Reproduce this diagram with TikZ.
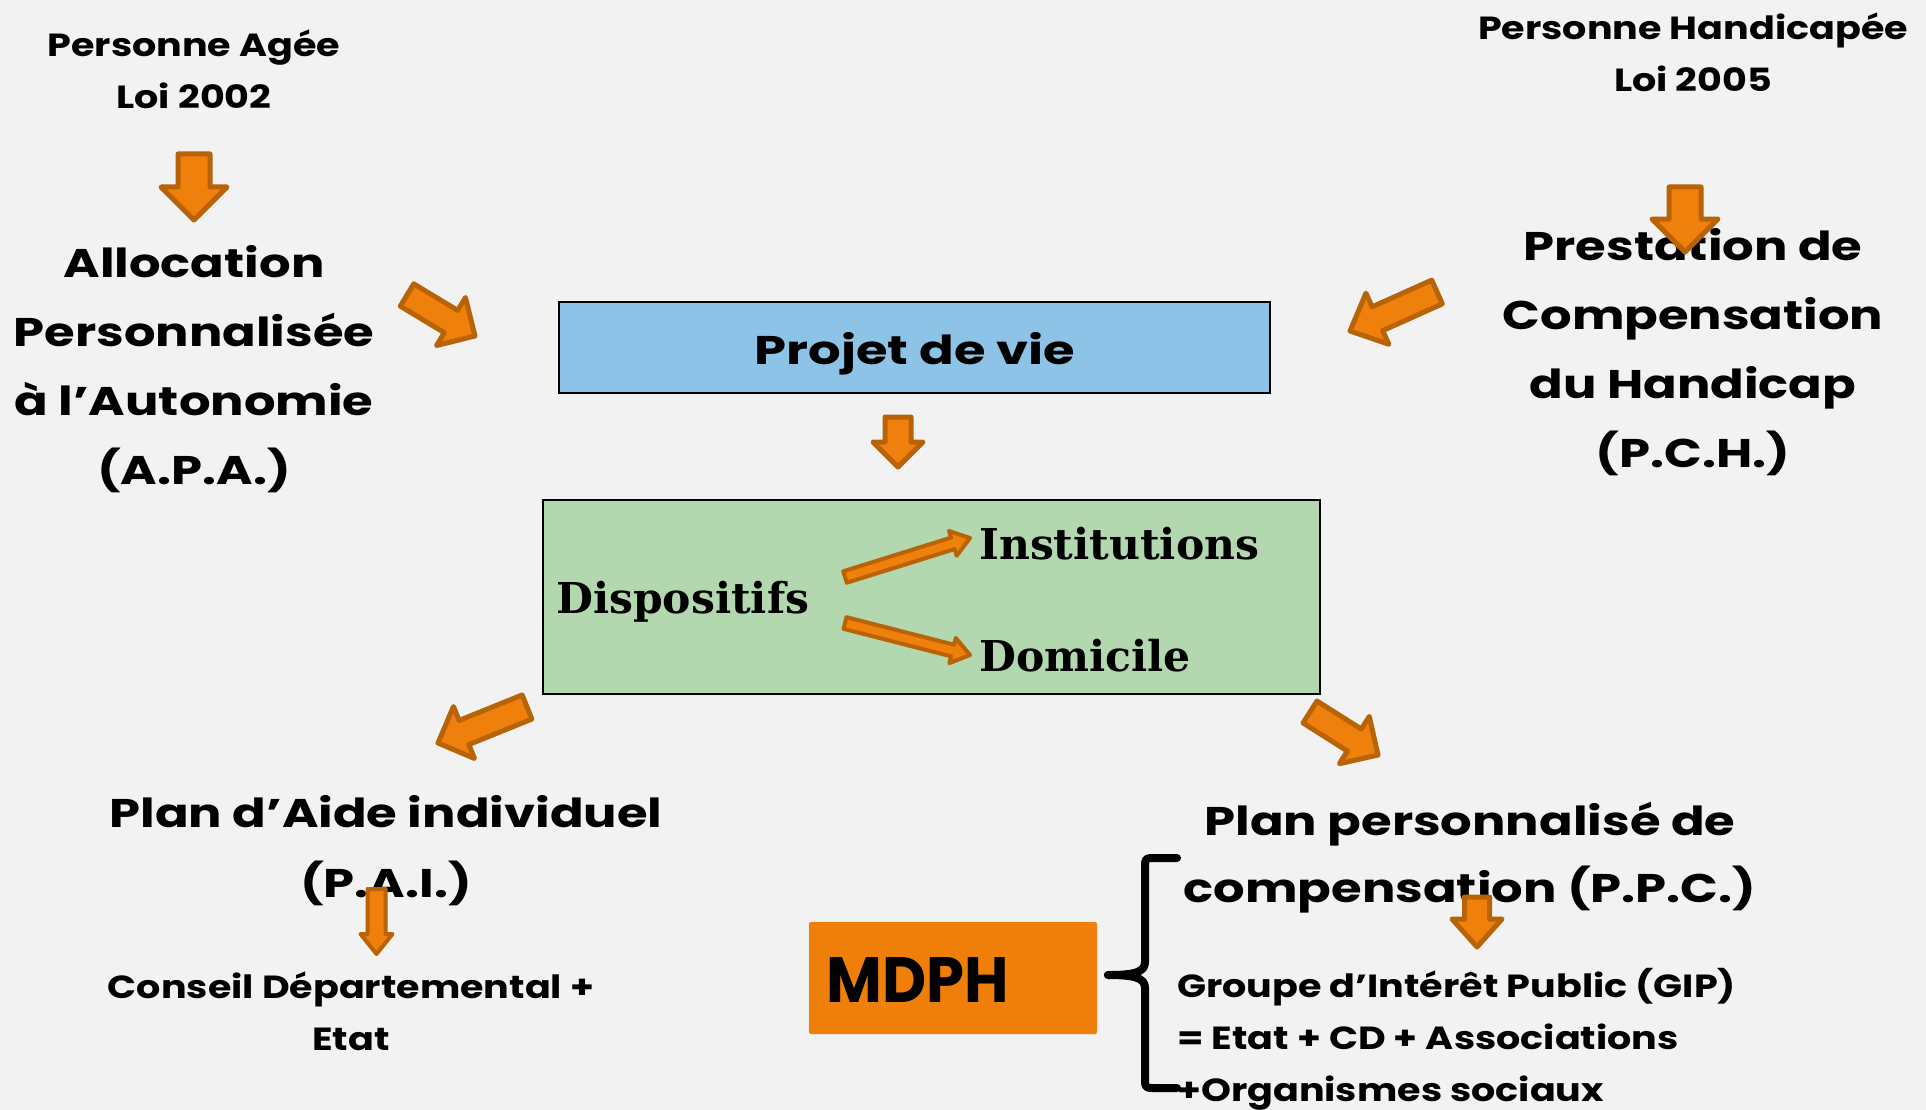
\documentclass[tikz,border=0pt]{standalone}
\usepackage{fontspec}
\setmainfont{Poppins}
\newfontfamily\wideA[FakeStretch=1.24]{Poppins}
\newfontfamily\wideB[FakeStretch=1.19]{Poppins}
\newfontfamily\wideC[FakeStretch=1.28]{Poppins}
\newfontfamily\mdphf[FakeStretch=0.95]{Poppins}
\newfontfamily\serifb{DejaVu Serif}
\usetikzlibrary{calc}
\definecolor{bg}{HTML}{F2F2F2}
\definecolor{arfill}{HTML}{F0800C}
\definecolor{arline}{HTML}{B96307}
\definecolor{blueb}{HTML}{8DC3E7}
\definecolor{greenb}{HTML}{B3D7AF}
\definecolor{mdphc}{HTML}{F07F0A}
\tikzset{
  blockarrow/.style={fill=arfill, draw=arline, line width=5pt, line join=round},
  small/.style={font=\wideB\bfseries\fontsize{32}{52}\selectfont, align=center, inner sep=0pt},
  big/.style={font=\wideA\bfseries\fontsize{40}{69}\selectfont, align=center, inner sep=0pt},
  serifl/.style={font=\serifb\bfseries\fontsize{42.5}{48}\selectfont, inner sep=0pt},
  bracestyle/.style={line width=8pt, line cap=round, line join=round},
}
% #1 options, #2 from, #3 to, #4 shaft half width, #5 head half width, #6 head length
\newcommand\barrow[6][]{%
  \draw[blockarrow,#1] let \p1=(#2), \p2=(#3),
    \n1={atan2(\y2-\y1,\x2-\x1)}, \n2={veclen(\x2-\x1,\y2-\y1)} in
    [shift={(\p1)}, rotate=\n1]
    (0,-#4) -- ({\n2-#6},-#4) -- ({\n2-#6},-#5) -- (\n2,0) -- ({\n2-#6},#5) -- ({\n2-#6},#4) -- (0,#4) -- cycle;}
\begin{document}
\begin{tikzpicture}[x=1pt,y=-1pt]
\fill[bg] (0,0) rectangle (1926,1110);
\useasboundingbox (0,0) rectangle (1926,1110);

% texts
\node[small] (pa) at (194,69) {Personne Agée\\Loi 2002};
\node[small] (ph) at (1693,52) {Personne Handicapée\\Loi 2005};
\node[big] (apa) at (194,369) {Allocation\\Personnalisée\\à l’Autonomie\\(A.P.A.)};
\node[big] (pch) at (1693,352) {Prestation de\\Compensation\\du Handicap\\(P.C.H.)};

% boxes
\node[draw=black, line width=2pt, fill=blueb, minimum width=711pt, minimum height=91pt, inner sep=0pt] (projet) at (914.5,347.5) {};
\node[inner sep=0pt, font=\wideC\bfseries\fontsize{40}{44}\selectfont] (projett) at (915,354) {Projet de vie};
\node[draw=black, line width=2.5pt, fill=greenb, minimum width=777pt, minimum height=194pt, inner sep=0pt] (disp) at (931.5,597) {};
\node[serifl, anchor=west] (dispo) at (556,602) {Dispositifs};
\node[serifl, anchor=west] (inst) at (979,544) {Institutions};
\node[serifl, anchor=west] (dom) at (979,656) {Domicile};

\node[big, font=\wideA\bfseries\fontsize{40}{70}\selectfont] (pai) at (386,851) {Plan d’Aide individuel\\(P.A.I.)};
\node[small] (cd) at (351,1011) {Conseil Départemental +\\Etat};
\node[big, font=\wideA\bfseries\fontsize{40}{67}\selectfont] (ppc) at (1470,858) {Plan personnalisé de\\compensation (P.P.C.)};

\node[fill=mdphc, rounded corners=2pt, minimum width=288pt, minimum height=112pt, inner sep=0pt] (mdph) at (953,978) {};
\node[anchor=west, inner sep=0pt, font=\mdphf\bfseries\fontsize{64}{70}\selectfont] (mdpht) at (826,980) {MDPH};

\node[small, align=left, anchor=west] (gip) at (1177,1039) {Groupe d’Intérêt Public (GIP)\\= Etat + CD + Associations\\+Organismes sociaux};

% brace
\coordinate (bt) at (1177,858);
\coordinate (bm) at (1108,975);
\coordinate (bb) at (1177,1088);
\draw[bracestyle] (bt) -- (1155,858) .. controls (1145,858) .. (1145,868) -- (1145,962)
   .. controls (1145,972) and (1135,975) .. (bm);
\draw[bracestyle] (bm) .. controls (1135,975) and (1145,978) .. (1145,988) -- (1145,1078)
   .. controls (1145,1088) .. (1155,1088) -- (bb);

% block arrows
\coordinate (a1s) at (194,154); \coordinate (a1e) at (194,220);
\barrow{a1s}{a1e}{16}{33}{33}
\coordinate (a2s) at (407,295); \coordinate (a2e) at (475,336);
\barrow{a2s}{a2e}{13}{28}{28}
\coordinate (a3s) at (1437,292); \coordinate (a3e) at (1350,331);
\barrow{a3s}{a3e}{13}{28}{30}
\coordinate (a4s) at (1685,187); \coordinate (a4e) at (1685,252);
\barrow{a4s}{a4e}{16}{33}{33}
\coordinate (a5s) at (898,417); \coordinate (a5e) at (898,467);
\barrow{a5s}{a5e}{13}{25}{25}
\coordinate (a6s) at (845,577); \coordinate (a6e) at (970,538);
\barrow[line width=4pt]{a6s}{a6e}{6}{13}{18}
\coordinate (a7s) at (845,623); \coordinate (a7e) at (970,655);
\barrow[line width=4pt]{a7s}{a7e}{6}{13}{18}
\coordinate (a8s) at (527,707); \coordinate (a8e) at (438,743);
\barrow{a8s}{a8e}{13}{28}{28}
\coordinate (a9s) at (1310,712); \coordinate (a9e) at (1378,755);
\barrow{a9s}{a9e}{13}{28}{28}
\coordinate (a10s) at (376.5,889); \coordinate (a10e) at (376.5,954);
\barrow[line width=4pt]{a10s}{a10e}{9}{16}{20}
\coordinate (a11s) at (1477,897); \coordinate (a11e) at (1477,947);
\barrow{a11s}{a11e}{12.5}{25}{28}
\end{tikzpicture}
\end{document}
